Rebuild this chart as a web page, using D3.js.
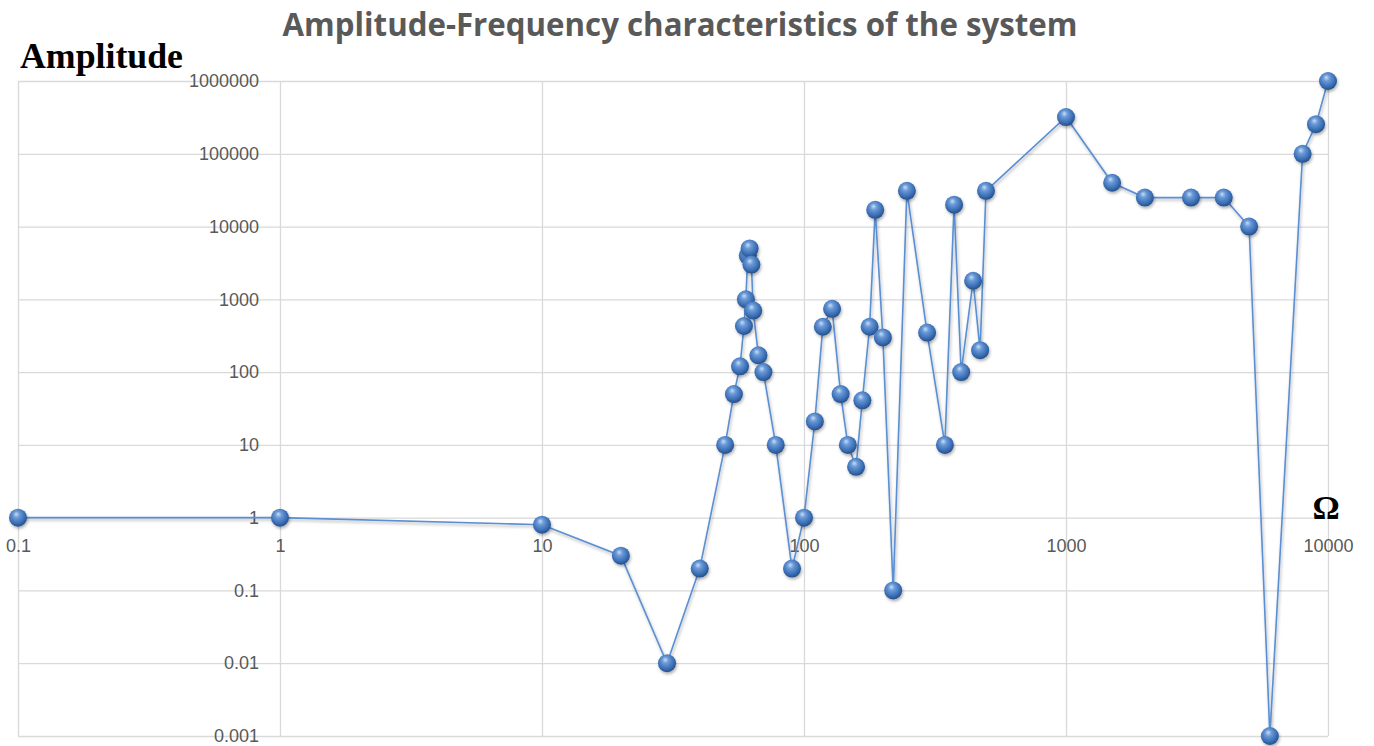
<!DOCTYPE html>
<html><head><meta charset="utf-8">
<script src="https://cdn.jsdelivr.net/npm/d3@7/dist/d3.min.js"></script>
<style>html,body{margin:0;padding:0;background:#fff;}svg{display:block;}</style>
</head><body>
<script>
const omega = [0.1,1,10,20,30,40,50,54,57,59,60,61,62,63,64,67,70,78,90,100,110,118,128,138,147,158,167,178,187,200,219,247,295,345,374,398,442,470,495,1000,1500,2000,3000,4000,5000,6000,8000,9000,10000];
const amplitude = [1,1,0.8,0.3,0.01,0.2,10,50,120,430,1000,4000,5000,3000,700,170,100,10,0.2,1,21,420,740,50,10,5,41,420,17000,300,0.1,31000,350,10,20000,100,1800,200,31000,320000,40000,25000,25000,25000,10000,0.001,100000,255000,1000000];
const xTickValues = [0.1,1,10,100,1000,10000];
const xTickLabels = ["0.1","1","10","100","1000","10000"];
const yTickValues = [0.001,0.01,0.1,1,10,100,1000,10000,100000,1000000];
const yTickLabels = ["0.001","0.01","0.1","1","10","100","1000","10000","100000","1000000"];
const titleText = "Amplitude-Frequency characteristics of the system";
const yTitle = "Amplitude";
const xTitle = "Ω";

const W = 1374, H = 746;
const svg = d3.select("body").append("svg").attr("width", W).attr("height", H);
const defs = svg.append("defs");
const g1 = defs.append("radialGradient").attr("id","ball").attr("cx","45%").attr("cy","40%").attr("r","60%").attr("fx","40%").attr("fy","30%");
g1.append("stop").attr("offset","0%").attr("stop-color","#c9ddf5");
g1.append("stop").attr("offset","30%").attr("stop-color","#6a9ad8");
g1.append("stop").attr("offset","75%").attr("stop-color","#3a6db3");
g1.append("stop").attr("offset","100%").attr("stop-color","#244f8a");
const f = defs.append("filter").attr("id","shadow").attr("x","-50%").attr("y","-50%").attr("width","200%").attr("height","200%");
f.append("feDropShadow").attr("dx",1).attr("dy",2).attr("stdDeviation",1.5).attr("flood-color","#000").attr("flood-opacity",0.3);

const x = d3.scaleLog().domain([0.1, 10000]).range([18, 1328]);
const y = d3.scaleLog().domain([0.001, 1000000]).range([736, 81]);

// gridlines
const grid = svg.append("g");
grid.append("g").attr("transform", `translate(0,${y(0.001)})`)
  .call(d3.axisBottom(x).tickValues(xTickValues).tickSize(-(y(0.001)-y(1000000))).tickFormat(""))
  .call(g => g.select(".domain").remove())
  .call(g => g.selectAll("line").attr("stroke","#d9d9d9").attr("stroke-width",1.3));
grid.append("g").attr("transform", `translate(${x(0.1)},0)`)
  .call(d3.axisLeft(y).tickValues(yTickValues).tickSize(-(x(10000)-x(0.1))).tickFormat(""))
  .call(g => g.select(".domain").remove())
  .call(g => g.selectAll("line").attr("stroke","#d9d9d9").attr("stroke-width",1.3));

// axes labels
const yAxis = svg.append("g").attr("transform", `translate(${x(1)},0)`)
  .call(d3.axisLeft(y).tickValues(yTickValues).tickSize(0).tickPadding(21).tickFormat((d,i)=>yTickLabels[i]));
yAxis.select(".domain").remove();
yAxis.selectAll("text").attr("font-family","Liberation Sans, Arial, sans-serif").attr("font-size",18).attr("fill","#595959");

const xAxis = svg.append("g").attr("transform", `translate(0,${y(1)})`)
  .call(d3.axisBottom(x).tickValues(xTickValues).tickSize(0).tickPadding(22).tickFormat((d,i)=>xTickLabels[i]));
xAxis.select(".domain").remove();
xAxis.selectAll("text").attr("font-family","Liberation Sans, Arial, sans-serif").attr("font-size",18).attr("fill","#595959");

// line
const data = omega.map((o,i)=>({o, a: amplitude[i]}));
svg.append("path").datum(data)
  .attr("d", d3.line().x(d=>x(d.o)).y(d=>y(d.a)))
  .attr("fill","none").attr("stroke","#5a8fd3").attr("stroke-width",1.6)
  .attr("filter","url(#shadow)");

svg.append("g").selectAll("circle").data(data).join("circle")
  .attr("cx", d=>x(d.o)).attr("cy", d=>y(d.a)).attr("r", 9)
  .attr("fill","url(#ball)").attr("filter","url(#shadow)");

// titles
svg.append("text").attr("x", 680).attr("y", 36).attr("text-anchor","middle")
  .attr("font-family","Open Sans, Noto Sans, sans-serif").attr("font-weight","bold").attr("font-size",32)
  .attr("fill","#595959").attr("textLength",795).attr("lengthAdjust","spacingAndGlyphs").text(titleText);
svg.append("text").attr("x", 20).attr("y", 68)
  .attr("font-family","Liberation Serif, Times New Roman, serif").attr("font-weight","bold").attr("font-size",36)
  .attr("fill","#000").attr("textLength",163).attr("lengthAdjust","spacingAndGlyphs").text(yTitle);
svg.append("text").attr("x", 1326).attr("y", 519).attr("text-anchor","middle")
  .attr("font-family","Liberation Serif, Times New Roman, serif").attr("font-weight","bold").attr("font-size",34)
  .attr("fill","#000").text(xTitle);
</script>
</body></html>
